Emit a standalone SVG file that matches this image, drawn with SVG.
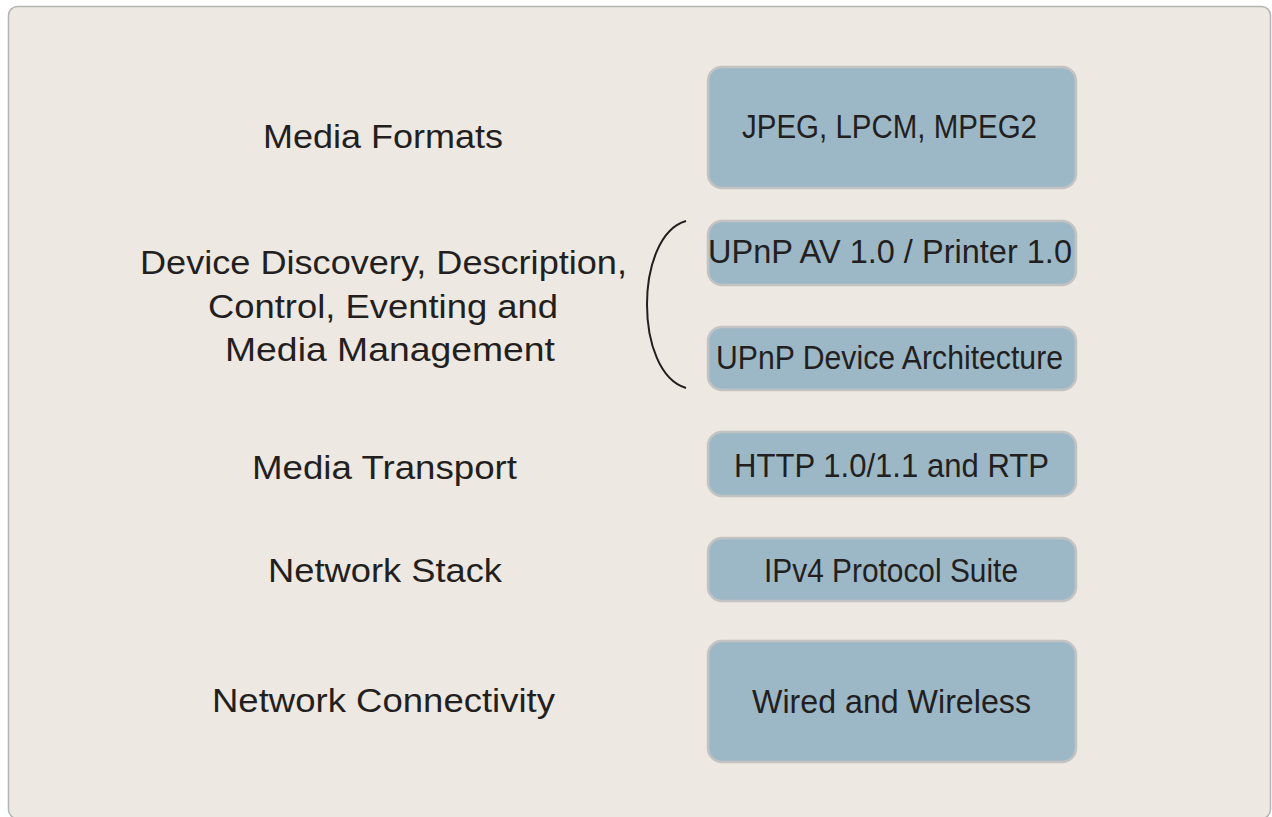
<svg xmlns="http://www.w3.org/2000/svg" width="1272" height="817" viewBox="0 0 1272 817">
<style>
.bg{fill:#ede8e1;stroke:#b5b5b5;stroke-width:1.5}
.box{fill:#9cb8c7;stroke:#c3c3c3;stroke-width:2.5}
text{font-family:"Liberation Sans",Arial,sans-serif;font-size:33px;fill:#231f20}
.lbl{font-size:34px}
.brace{fill:none;stroke:#231f20;stroke-width:2}
</style>
<rect class="bg" x="8.5" y="6.5" width="1262" height="812" rx="9"/>
<g id="labels">
<text class="lbl" x="263" y="148" textLength="240" lengthAdjust="spacingAndGlyphs">Media Formats</text>
<text class="lbl" x="140" y="274" textLength="487" lengthAdjust="spacingAndGlyphs">Device Discovery, Description,</text>
<text class="lbl" x="208" y="318" textLength="350" lengthAdjust="spacingAndGlyphs">Control, Eventing and</text>
<text class="lbl" x="225" y="361" textLength="330" lengthAdjust="spacingAndGlyphs">Media Management</text>
<text class="lbl" x="252" y="479" textLength="265" lengthAdjust="spacingAndGlyphs">Media Transport</text>
<text class="lbl" x="268" y="582" textLength="234" lengthAdjust="spacingAndGlyphs">Network Stack</text>
<text class="lbl" x="212" y="712" textLength="343" lengthAdjust="spacingAndGlyphs">Network Connectivity</text>
</g>
<g id="n-formats">
<rect class="box" x="708" y="67" width="368" height="121" rx="14"/>
<text x="742" y="138" textLength="295" lengthAdjust="spacingAndGlyphs">JPEG, LPCM, MPEG2</text>
</g>
<g id="n-upnp-av">
<rect class="box" x="708" y="221" width="368" height="64" rx="14"/>
<text x="708" y="263" textLength="364" lengthAdjust="spacingAndGlyphs">UPnP AV 1.0 / Printer 1.0</text>
</g>
<g id="n-upnp-da">
<rect class="box" x="708" y="327" width="368" height="63" rx="14"/>
<text x="716" y="369" textLength="347" lengthAdjust="spacingAndGlyphs">UPnP Device Architecture</text>
</g>
<g id="n-http">
<rect class="box" x="708" y="432" width="368" height="64" rx="14"/>
<text x="734" y="477" textLength="315" lengthAdjust="spacingAndGlyphs">HTTP 1.0/1.1 and RTP</text>
</g>
<g id="n-ipv4">
<rect class="box" x="708" y="538" width="368" height="63" rx="14"/>
<text x="764" y="582" textLength="254" lengthAdjust="spacingAndGlyphs">IPv4 Protocol Suite</text>
</g>
<g id="n-wired">
<rect class="box" x="708" y="641" width="368" height="121" rx="14"/>
<text x="752" y="713" textLength="279" lengthAdjust="spacingAndGlyphs">Wired and Wireless</text>
</g>
<g id="connectors">
<path class="brace" d="M686,221 C634,236 634,373 686,388"/>
</g>
</svg>
